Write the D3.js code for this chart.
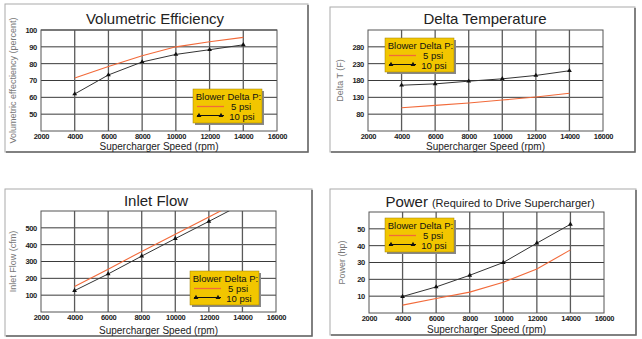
<!DOCTYPE html>
<html><head><meta charset="utf-8">
<script src="https://cdn.jsdelivr.net/npm/d3@7"></script>
<style>body{margin:0;background:#fff}svg{display:block}text{font-family:"Liberation Sans",Arial,sans-serif}</style>
</head><body>
<svg id="c" width="642" height="339"></svg>
<script>
const speeds = [4000, 6000, 8000, 10000, 12000, 14000];
const xTicks = [2000, 4000, 6000, 8000, 10000, 12000, 14000, 16000];
const seriesNames = ["5 psi", "10 psi"];
const legendTitle = "Blower Delta P:";
const xLabel = "Supercharger Speed (rpm)";

const veTitle = "Volumetric Efficiency";
const veYLabel = "Volumetric effectiency  (percent)";
const ve5 = [71.5, 78.3, 84.7, 90, 93, 95.6];
const ve10 = [62, 73.3, 81, 85.5, 88.3, 91.2];
const veTicks = [50, 60, 70, 80, 90, 100];

const dtTitle = "Delta Temperature";
const dtYLabel = "Delta T (F)";
const dt5 = [99, 106, 113, 122, 131, 142];
const dt10 = [166, 170, 178, 185, 195, 209];
const dtTicks = [80, 130, 180, 230, 280];

const ifTitle = "Inlet Flow";
const ifYLabel = "Inlet Flow (cfm)";
const if5 = [151, 254, 360, 462, 564, 668];
const if10 = [127, 226, 332, 436, 538, 642];
const ifTicks = [100, 200, 300, 400, 500];

const pwTitle = "Power";
const pwSub = "(Required to Drive Supercharger)";
const pwYLabel = "Power (hp)";
const pw5 = [4.7, 8.6, 12.4, 18.3, 26.1, 37.5];
const pw10 = [9.8, 15.5, 22.4, 30, 41.5, 52.7];
const pwTicks = [10, 20, 30, 40, 50];

const svg = d3.select("#c");
const ORANGE = "#f26a3a", BLACK = "#333", YELLOW = "#f2c600";

function panel(o) {
  const g = svg.append("g");
  // frame
  g.append("rect").attr("x", o.fx).attr("y", o.fy).attr("width", o.fw).attr("height", o.fh)
    .attr("fill", "#fff").attr("stroke", "#aaa").attr("stroke-width", 1);
  g.append("path").attr("d", `M${o.fx+o.fw},${o.fy+1}V${o.fy+o.fh}H${o.fx+1}`)
    .attr("fill", "none").attr("stroke", "#666").attr("stroke-width", 1.5);

  const x = d3.scaleLinear().domain([2000, 16000]).range([o.l, o.r]);
  const y = d3.scaleLinear().domain(o.yDom).range([o.b, o.t]);
  const clipId = "clip" + o.id;
  g.append("clipPath").attr("id", clipId).append("rect")
    .attr("x", o.l).attr("y", o.t).attr("width", o.r - o.l).attr("height", o.b - o.t);

  // grid
  g.selectAll(".hg").data(o.ticks).join("line")
    .attr("x1", o.l).attr("x2", o.r).attr("y1", d => y(d)).attr("y2", d => y(d))
    .attr("stroke", "#3a3a3a").attr("stroke-width", 1);
  g.selectAll(".vg").data(xTicks.slice(1, -1)).join("line")
    .attr("x1", d => x(d)).attr("x2", d => x(d)).attr("y1", o.t).attr("y2", o.b)
    .attr("stroke", "#5a5a5a").attr("stroke-width", 1.3);
  g.append("rect").attr("x", o.l).attr("y", o.t).attr("width", o.r - o.l).attr("height", o.b - o.t)
    .attr("fill", "none").attr("stroke", "#555").attr("stroke-width", 1);

  // axes
  const xa = g.append("g").attr("transform", `translate(0,${o.b})`)
    .call(d3.axisBottom(x).tickValues(xTicks).tickSize(0).tickPadding(o.xp).tickFormat(d3.format("d")));
  xa.select(".domain").remove();
  xa.selectAll("text").attr("font-size", "7.5px").attr("fill", "#222").attr("font-weight", "bold")
    .attr("letter-spacing", "-0.3px");
  const ya = g.append("g").attr("transform", `translate(${o.l},0)`)
    .call(d3.axisLeft(y).tickValues(o.ticks).tickSize(0).tickPadding(4).tickFormat(d3.format("d")));
  ya.select(".domain").remove();
  ya.selectAll("text").attr("font-size", "7.5px").attr("fill", "#222").attr("font-weight", "bold")
    .attr("letter-spacing", "-0.3px");

  // titles
  const tt = g.append("text").attr("x", o.tx).attr("y", o.ty).attr("text-anchor", "middle")
    .attr("fill", "#222").attr("font-size", o.tfs + "px");
  tt.append("tspan").text(o.title);
  if (o.sub) tt.append("tspan").attr("font-size", "11px").attr("dx", 4).text(o.sub);
  g.append("text").attr("x", (o.l + o.r) / 2).attr("y", o.b + o.xl).attr("text-anchor", "middle")
    .attr("font-size", "10px").attr("fill", "#222").text(xLabel);
  g.append("text").attr("transform", `translate(${o.yl},${(o.t + o.b) / 2 + o.ylOff}) rotate(-90)`)
    .attr("text-anchor", "middle").attr("font-size", "9px").attr("fill", "#777").text(o.yLabel);

  // lines
  const line = d3.line().x((d, i) => x(speeds[i])).y(d => y(d));
  const lg = g.append("g").attr("clip-path", `url(#${clipId})`);
  lg.append("path").attr("d", line(o.s5)).attr("fill", "none").attr("stroke", ORANGE).attr("stroke-width", 1.1);
  lg.append("path").attr("d", line(o.s10)).attr("fill", "none").attr("stroke", BLACK).attr("stroke-width", 1);
  lg.selectAll(".m").data(o.s10).join("path")
    .attr("transform", (d, i) => `translate(${x(speeds[i])},${y(d)})`)
    .attr("d", d3.symbol(d3.symbolTriangle, 10)).attr("fill", "#111");

  // legend
  const L = g.append("g").attr("transform", `translate(${o.lx},${o.ly})`);
  L.append("rect").attr("x", 2).attr("y", 2).attr("width", 69).attr("height", 34).attr("fill", "#888");
  L.append("rect").attr("x", 0).attr("y", 0).attr("width", 69).attr("height", 34).attr("fill", YELLOW)
    .attr("stroke", "#a08000").attr("stroke-width", 0.5);
  L.append("text").attr("x", 35.5).attr("y", 11).attr("text-anchor", "middle").attr("font-size", "9.5px")
    .attr("fill", "#111").text(legendTitle);
  L.append("line").attr("x1", 4).attr("x2", 31).attr("y1", 17.5).attr("y2", 17.5).attr("stroke", ORANGE).attr("stroke-width", 1.3);
  L.append("text").attr("x", 48).attr("y", 21).attr("text-anchor", "middle").attr("font-size", "9.5px")
    .attr("fill", "#111").text(seriesNames[0]);
  L.append("line").attr("x1", 4).attr("x2", 31).attr("y1", 26.5).attr("y2", 26.5).attr("stroke", "#111").attr("stroke-width", 1);
  [6, 28].forEach(px => L.append("path").attr("transform", `translate(${px},26.5)`)
    .attr("d", d3.symbol(d3.symbolTriangle, 10)).attr("fill", "#111"));
  L.append("text").attr("x", 49).attr("y", 30.5).attr("text-anchor", "middle").attr("font-size", "9.5px")
    .attr("fill", "#111").text(seriesNames[1]);
}

panel({id: 1, fx: 5, fy: 4, fw: 303, fh: 148, l: 41, r: 277, t: 30, b: 131, yDom: [40, 100],
  ticks: veTicks, s5: ve5, s10: ve10, title: veTitle, tfs: 15, tx: 155, ty: 24, yLabel: veYLabel, yl: 16, ylOff: 0,
  lx: 193, ly: 89, xp: 3, xl: 19});
panel({id: 2, fx: 330, fy: 7, fw: 305, fh: 145, l: 368, r: 603, t: 30, b: 131, yDom: [30, 330],
  ticks: dtTicks, s5: dt5, s10: dt10, title: dtTitle, tfs: 15, tx: 485, ty: 24, yLabel: dtYLabel, yl: 343, ylOff: 0,
  lx: 385, ly: 38, xp: 3, xl: 19});
panel({id: 3, fx: 5, fy: 189, fw: 307, fh: 147, l: 41, r: 276, t: 211, b: 312, yDom: [0, 600],
  ticks: ifTicks, s5: if5, s10: if10, title: ifTitle, tfs: 15, tx: 156, ty: 206, yLabel: ifYLabel, yl: 16, ylOff: 0,
  lx: 190, ly: 271, xp: 3, xl: 22});
panel({id: 4, fx: 330, fy: 189, fw: 306, fh: 146, l: 369, r: 604, t: 212, b: 313, yDom: [0, 60],
  ticks: pwTicks, s5: pw5, s10: pw10, title: pwTitle, tfs: 15, sub: pwSub, tx: 490, ty: 207, yLabel: pwYLabel, yl: 345, ylOff: 0,
  lx: 385, ly: 218, xp: 3, xl: 20});
</script>
</body></html>
